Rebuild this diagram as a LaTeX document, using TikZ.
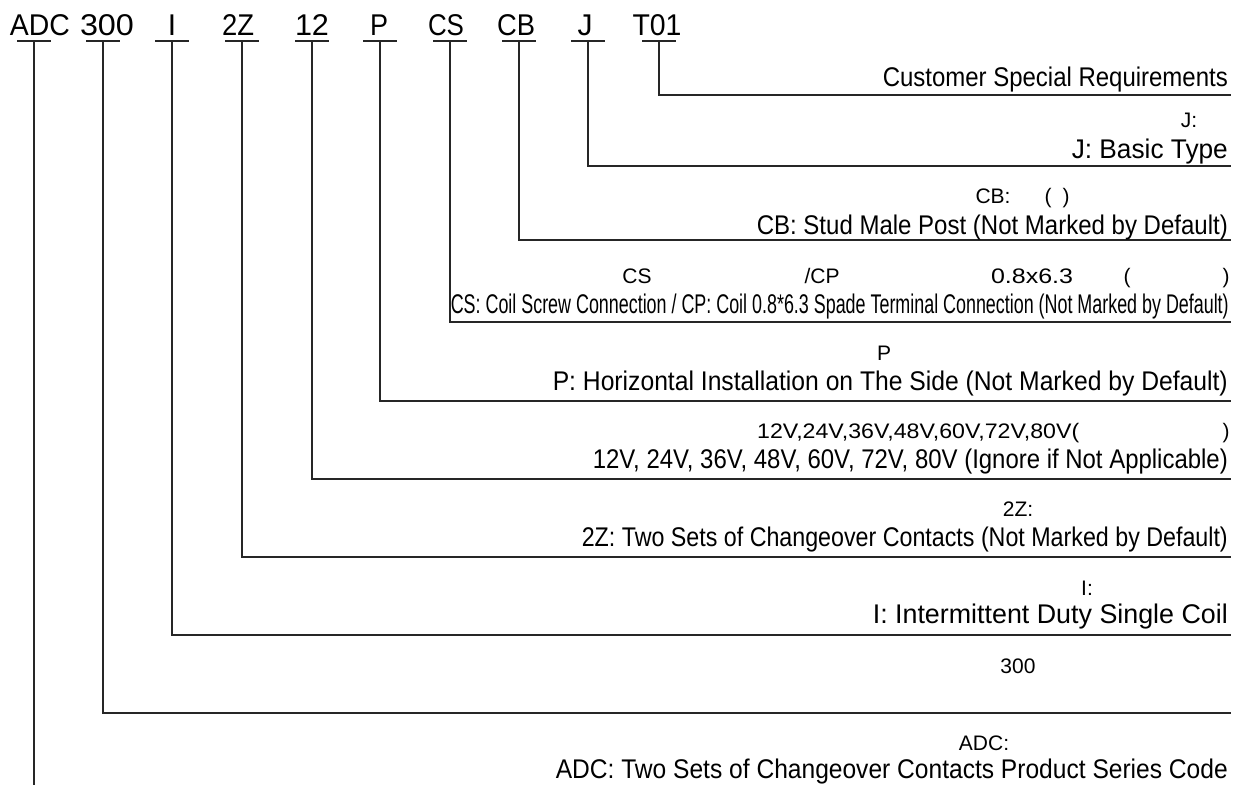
\documentclass[tikz,border=0pt]{standalone}
\usepackage{fontspec}
\setmainfont{Liberation Sans}
\usepackage{graphicx}
\newcommand\fitto[2]{\resizebox{#1pt}{\height}{#2}}
\begin{document}
\begin{tikzpicture}[x=1pt,y=-1pt,
  code/.style={inner sep=0pt,anchor=base,font=\fontsize{30}{32}\selectfont},
  eng/.style={inner sep=0pt,anchor=base east,font=\fontsize{27}{29}\selectfont},
  cn/.style={inner sep=0pt,anchor=base,font=\fontsize{21}{23}\selectfont},
  ln/.style={line width=1.5pt,black!85}]
\useasboundingbox (0,0) rectangle (1241,787);
% top codes
\node[code] (adc) at (40,35) {\fitto{60}{ADC}};
\node[code] (n300) at (107,35) {\fitto{54}{300}};
\node[code] (ni) at (172,35) {I};
\node[code] (n2z) at (238,35) {\fitto{32}{2Z}};
\node[code] (n12) at (312,35) {\fitto{34}{12}};
\node[code] (np) at (379,35) {\fitto{18}{P}};
\node[code] (ncs) at (446,35) {\fitto{36}{CS}};
\node[code] (ncb) at (516,35) {\fitto{38}{CB}};
\node[code] (nj) at (585,35) {J};
\node[code] (nt) at (657,35) {\fitto{49}{T01}};
% stems top coordinates
\foreach \n/\x in {a/34,b/103,c/172,d/242,e/312,f/380,g/450,h/519,i/588,j/659}{
  \coordinate (t\n) at (\x,41);
  \draw[ln] (\x-17,41) -- (\x+17,41);
}
% line ends
\coordinate (ej) at (1231,95);
\coordinate (ei) at (1231,166);
\coordinate (eh) at (1231,240);
\coordinate (eg) at (1231,322);
\coordinate (ef) at (1231,401);
\coordinate (ee) at (1231,479);
\coordinate (ed) at (1231,557);
\coordinate (ec) at (1231,635);
\coordinate (eb) at (1231,713);
\coordinate (ea) at (34,785);
\foreach \n in {b,c,d,e,f,g,h,i,j}{\draw[ln] (t\n) |- (e\n);}
\draw[ln] (ta) -- (ea);
% descriptions
\node[eng] (dj) at (1228,86) {\fitto{345}{Customer Special Requirements}};
\node[cn] (cj) at (1189,127) {J:};
\node[eng] (di) at (1228,158) {\fitto{156}{J: Basic Type}};
\node[cn] (ch1) at (993,203) {CB:};
\node[cn] (ch2) at (1048,203) {(};
\node[cn] (ch3) at (1066,203) {)};
\node[eng] (dh) at (1228,234) {\fitto{471}{CB: Stud Male Post (Not Marked by Default)}};
\node[cn] (cg1) at (637,283) {CS};
\node[cn] (cg2) at (822,283) {/CP};
\node[cn] (cg3) at (1032,283) {\fitto{82}{0.8x6.3}};
\node[cn] (cg4) at (1127,283) {(};
\node[cn] (cg5) at (1226,283) {)};
\node[eng] (dg) at (1229,313) {\fitto{778}{CS: Coil Screw Connection / CP: Coil 0.8*6.3 Spade Terminal Connection (Not Marked by Default)}};
\node[cn] (cf) at (884,360) {P};
\node[eng] (df) at (1228,390) {\fitto{675}{P: Horizontal Installation on The Side (Not Marked by Default)}};
\node[cn,anchor=base west] (ce1) at (757,438) {\fitto{322}{12V,24V,36V,48V,60V,72V,80V(}};
\node[cn] (ce2) at (1226,438) {)};
\node[eng] (de) at (1228,468) {\fitto{635}{12V, 24V, 36V, 48V, 60V, 72V, 80V (Ignore if Not Applicable)}};
\node[cn] (cd) at (1018,516) {2Z:};
\node[eng] (dd) at (1228,546) {\fitto{646}{2Z: Two Sets of Changeover Contacts (Not Marked by Default)}};
\node[cn] (cc) at (1087,595) {I:};
\node[eng] (dc) at (1228,623) {\fitto{355}{I: Intermittent Duty Single Coil}};
\node[cn] (cb) at (1018,673) {300};
\node[cn] (ca) at (984,750) {ADC:};
\node[eng] (da) at (1228,778) {\fitto{672}{ADC: Two Sets of Changeover Contacts Product Series Code}};
\end{tikzpicture}
\end{document}
